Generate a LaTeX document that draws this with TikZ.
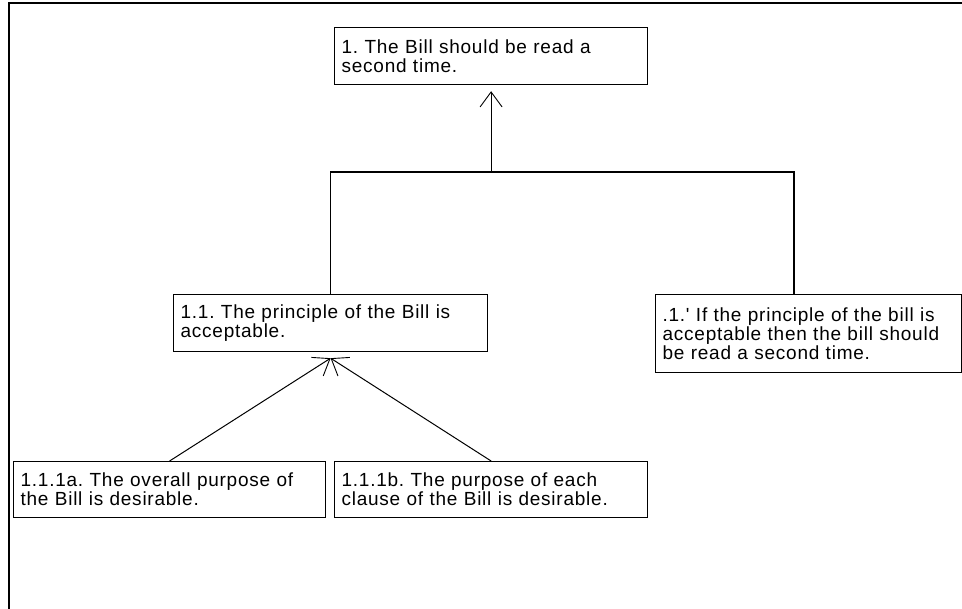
\documentclass[tikz,border=0pt]{standalone}
\usepackage{fontspec}
\newfontfamily\lblfont{Liberation Sans}[LetterSpace=4]
\usetikzlibrary{arrows.meta,calc}
\tikzset{
  claim/.style={draw=black, line width=1.2pt, anchor=north west, align=left,
    inner xsep=7pt, inner ysep=0pt, font=\lblfont\fontsize{19}{19}\selectfont\frenchspacing},
  conn/.style={draw=black, line width=1.2pt},
  arr/.style={draw=black, line width=1pt, -{Straight Barb[length=15pt,width=22pt,line width=0.9pt]}},
  frame/.style={draw=black, line width=2.6pt}
}
\begin{document}
\begin{tikzpicture}[x=1pt,y=-1pt]
\useasboundingbox (0,0) rectangle (962,609);
\draw[frame] (9,609) -- (9,3) -- (962,3);

\node[claim, text width=299pt, minimum height=57pt] (n1) at (334,27)
  {1. The Bill should be read a\\second time.};
\node[claim, text width=300pt, minimum height=57pt] (n11) at (173,294)
  {1.1. The principle of the Bill is\\acceptable.};
\node[claim, text width=292pt, minimum height=78pt] (op) at (655,294)
  {.1.' If the principle of the bill is\\acceptable then the bill should\\be read a second time.};
\node[claim, text width=298pt, minimum height=56pt] (a) at (13,461)
  {1.1.1a. The overall purpose of\\the Bill is desirable.};
\node[claim, text width=299pt, minimum height=56pt] (b) at (334,461)
  {1.1.1b. The purpose of each\\clause of the Bill is desirable.};

\coordinate (J) at (n1.south |- 0,172);
\coordinate (Jr) at (794,172);
\coordinate (T) at ($(n11.south)+(0,6)$);

\draw[conn] (n11.north) -- (n11.north |- J) -- (Jr) -- (Jr |- op.north);
\draw[arr, shorten >=6pt] (J) -- (J |- n1.south);
\draw[arr] (a.north) -- (T);
\draw[arr] (b.north) -- (T);
\end{tikzpicture}
\end{document}
